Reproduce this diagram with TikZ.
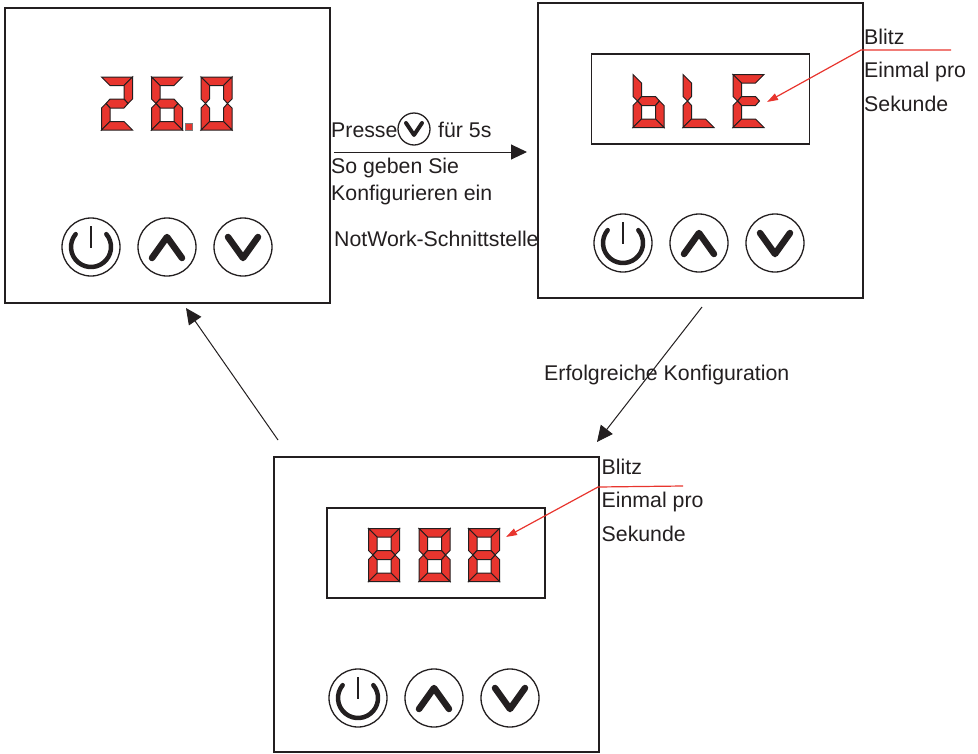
\documentclass[tikz,border=0pt]{standalone}
\usepackage{xcolor}
\usepackage{fontspec}
\setmainfont{Liberation Sans}
\usetikzlibrary{arrows.meta}

\definecolor{inkblack}{HTML}{231F20}
\definecolor{segred}{HTML}{E8352E}

\tikzset{
    panel/.style = {draw=inkblack, line width=1.4pt, minimum width=325pt, minimum height=295pt, inner sep=0pt},
    display/.style = {draw=inkblack, line width=1.3pt, minimum width=218pt, minimum height=90pt, inner sep=0pt},
    button/.style = {circle, draw=inkblack, line width=1.3pt, minimum size=58pt, inner sep=0pt},
    smallbutton/.style = {circle, draw=inkblack, line width=1.3pt, minimum size=32pt, inner sep=0pt},
    icon/.style = {draw=inkblack, line width=6.5pt, line cap=round, line join=round},
    segment/.style = {draw=inkblack, fill=segred, line width=1pt, line join=miter},
    label/.style = {anchor=base west, inner sep=0pt, text=inkblack, font=\fontsize{21.3}{25}\selectfont},
    flow/.style = {draw=inkblack, line width=1pt, -{Triangle[length=16pt,width=15pt]}},
    leader/.style = {draw=segred, line width=1.2pt, -{Triangle[length=11pt,width=7pt]}}
}

% the seven segments of one digit, 31 wide and 53 high
\newcommand{\segA}{(0,0) -- (31,0) -- (22.5,8.5) -- (8.5,8.5) -- cycle}
\newcommand{\segB}{(31,0) -- (31,22) -- (26.5,26.5) -- (22.5,22) -- (22.5,8.5) -- cycle}
\newcommand{\segC}{(31,53) -- (31,31) -- (26.5,26.5) -- (22.5,31) -- (22.5,44.5) -- cycle}
\newcommand{\segD}{(0,53) -- (31,53) -- (22.5,44.5) -- (8.5,44.5) -- cycle}
\newcommand{\segE}{(0,53) -- (0,31) -- (4.5,26.5) -- (8.5,31) -- (8.5,44.5) -- cycle}
\newcommand{\segF}{(0,0) -- (0,22) -- (4.5,26.5) -- (8.5,22) -- (8.5,8.5) -- cycle}
\newcommand{\segG}{(4.5,26.5) -- (8.5,22) -- (22.5,22) -- (26.5,26.5) -- (22.5,31) -- (8.5,31) -- cycle}

\newcommand{\digit}[3]{
    \begin{scope}[shift={(#1,#2)}]
        \foreach \s in {#3} {
            \draw[segment] \csname seg\s\endcsname;
        }
    \end{scope}
}

% power, up and down buttons, the first centre given
\newcommand{\buttons}[3]{
    \node[button] (#1power) at (#2,#3) {};
    \node[button] (#1up) at (#2+76,#3) {};
    \node[button] (#1down) at (#2+152,#3) {};
    \begin{scope}[shift={(#2,#3)}, y=1pt]
        \draw[icon, line width=4.5pt] (140:20) arc (140:400:20);
        \draw[icon, line width=2pt, line cap=butt] (0,21) -- (0,-1);
    \end{scope}
    \begin{scope}[shift={(#2+76,#3)}, y=1pt]
        \draw[icon] (-15,-11) -- (0,10) -- (15,-11);
    \end{scope}
    \begin{scope}[shift={(#2+152,#3)}, y=1pt]
        \draw[icon] (-15,10) -- (0,-11) -- (15,10);
    \end{scope}
}

\begin{document}
\begin{tikzpicture}[x=1pt, y=-1pt]
    \useasboundingbox (0,0) rectangle (978,753);

    % panels
    \node[panel] (leftpanel) at (167.5,155.5) {};
    \node[panel] (rightpanel) at (700.5,150.5) {};
    \node[panel] (bottompanel) at (436.5,604.5) {};
    \node[display] (rightdisplay) at (700.5,99) {};
    \node[display] (bottomdisplay) at (436,553) {};

    % digits
    \digit{101.5}{77}{A,B,G,E,D}
    \digit{151.5}{77}{A,F,G,E,C,D}
    \draw[segment, draw=inkblack!60, line width=.8pt] (185.5,123) rectangle (192,130);
    \digit{201}{77}{A,B,C,D,E,F}

    \digit{633}{74.5}{F,G,E,C,D}
    \digit{683}{74.5}{F,E,D}
    \digit{733}{74.5}{A,F,G,E,D}

    \digit{368.5}{528.5}{A,B,C,D,E,F,G}
    \digit{419}{528.5}{A,B,C,D,E,F,G}
    \digit{468.5}{528.5}{A,B,C,D,E,F,G}

    % buttons
    \buttons{left}{91}{247}
    \buttons{right}{623}{243}
    \buttons{bottom}{358}{698}

    % texts
    \node[label] (presse) at (331,137.5) {Presse};
    \node[smallbutton] (pressdown) at (414,129) {};
    \draw[icon, line width=4pt] (406,123) -- (414,135) -- (422,123);
    \node[label] (fuer) at (438,137.5) {für 5s};
    \node[label] (sogeben) at (331,173) {So geben Sie};
    \node[label] (konfig) at (331,200) {Konfigurieren ein};
    \node[label] (network) at (334,246) {NotWork-Schnittstelle};
    \node[label] (erfolg) at (544,380) {Erfolgreiche Konfiguration};

    \node[label] (blitza) at (864,44) {Blitz};
    \node[label] (einmala) at (864,77.5) {Einmal pro};
    \node[label] (sekundea) at (864,111) {Sekunde};
    \node[label] (blitzb) at (601.5,474) {Blitz};
    \node[label] (einmalb) at (601.5,507.5) {Einmal pro};
    \node[label] (sekundeb) at (601.5,541) {Sekunde};

    % connector ends
    \coordinate (flowastart) at (334,152);
    \coordinate (flowaend) at (527,152);
    \coordinate (flowbstart) at (702,307);
    \coordinate (flowbend) at (597,442);
    \coordinate (flowcstart) at (278,440);
    \coordinate (flowcend) at (186,308);
    \coordinate (leadera) at (951,50);
    \coordinate (kneea) at (861,50);
    \coordinate (tipa) at (767,102);
    \coordinate (leaderb) at (683,486);
    \coordinate (kneeb) at (598,487);
    \coordinate (tipb) at (506,537);

    % connectors
    \draw[flow] (flowastart) -- (flowaend);
    \draw[flow] (flowbstart) -- (flowbend);
    \draw[flow] (flowcstart) -- (flowcend);
    \draw[leader] (leadera) -- (kneea) -- (tipa);
    \draw[leader] (leaderb) -- (kneeb) -- (tipb);
\end{tikzpicture}
\end{document}
